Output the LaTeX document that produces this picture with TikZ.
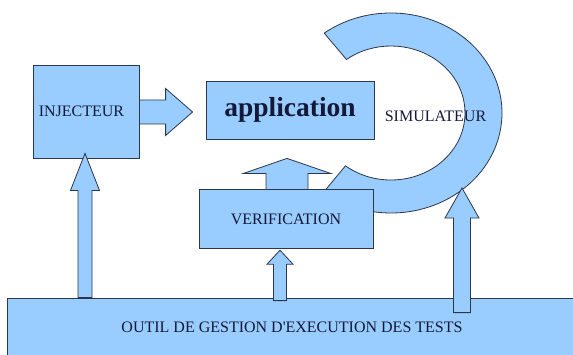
\documentclass[tikz,border=0pt]{standalone}
\usepackage{fontspec}
\setmainfont{Liberation Serif}
\definecolor{bleuClair}{RGB}{153,204,255}
\definecolor{contour}{RGB}{45,55,75}
\definecolor{encre}{RGB}{20,25,55}
\usetikzlibrary{positioning,calc}
\tikzset{
  bloc/.style={rectangle, draw=contour, line width=0.8pt, fill=bleuClair,
               inner sep=0pt, align=center, text=encre,
               font=\fontsize{16}{18}\selectfont},
  grosbloc/.style={bloc, font=\fontsize{27.5}{30}\selectfont\bfseries},
  texte/.style={inner sep=0pt, text=encre, font=\fontsize{16}{18}\selectfont},
  fleche/.style={fill=bleuClair, draw=contour, line width=0.8pt, line join=miter},
}
\newcommand{\flecheHaut}[5]{%
  \filldraw[fleche] ($(#1)+(-#3,0)$) -- ($(#2)+(-#3,-#5)$) -- ($(#2)+(-#4,-#5)$) -- (#2)
    -- ($(#2)+(#4,-#5)$) -- ($(#2)+(#3,-#5)$) -- ($(#1)+(#3,0)$) -- cycle;}
\newcommand{\flecheDroite}[5]{%
  \filldraw[fleche] ($(#1)+(0,-#3)$) -- ($(#2)+(-#5,-#3)$) -- ($(#2)+(-#5,-#4)$) -- (#2)
    -- ($(#2)+(-#5,#4)$) -- ($(#2)+(-#5,#3)$) -- ($(#1)+(0,#3)$) -- cycle;}

\begin{document}
\begin{tikzpicture}[x=1pt,y=1pt]
  \clip (0,0) rectangle (573,354);

  % anneau du simulateur
  \coordinate (centreSim) at (391,241);
  \coordinate (pointeSim) at (313,149);
  \filldraw[fleche] ($(centreSim)+(127:111pt and 100pt)$)
      arc[start angle=127, end angle=-115, x radius=111pt, y radius=100pt]
      -- (pointeSim) -- ($(centreSim)+(-128:74pt and 67pt)$)
      arc[start angle=-128, end angle=127, x radius=74pt, y radius=67pt] -- cycle;

  \node[bloc, minimum width=106pt, minimum height=93pt] (injecteur) at (86,242.5) {};
  \node[texte] at ($(injecteur)+(-4.5,0.5)$) {INJECTEUR};
  \node[grosbloc, minimum width=168pt, minimum height=58pt] (application) at (290,244) {application};
  \node[bloc, minimum width=174pt, minimum height=59pt, below=50pt of application, xshift=-4pt]
       (verification) {VERIFICATION};
  \node[bloc, minimum width=570pt, minimum height=58pt] (outil) at (292,27)
       {OUTIL DE GESTION D\textquotesingle EXECUTION DES TESTS};

  \coordinate (pDroite) at ($(application.west)+(-13,-2)$);
  \coordinate (bDroite) at (injecteur.east |- pDroite);
  \flecheDroite{bDroite}{pDroite}{12}{23.5}{27}

  \coordinate (pInj) at ($(injecteur.south)+(-1,5)$);
  \coordinate (bInj) at (pInj |- outil.north);
  \flecheHaut{bInj}{pInj}{7}{14.5}{37}

  \coordinate (pVer) at ($(verification.south)+(-6,-1)$);
  \coordinate (bVer) at ($(pVer |- outil.north)+(0,-3)$);
  \flecheHaut{bVer}{pVer}{6.5}{13}{14}

  \coordinate (pApp) at ($(application.south)+(-3,-19)$);
  \coordinate (bApp) at (pApp |- verification.north);
  \flecheHaut{bApp}{pApp}{21}{43.5}{15}

  \coordinate (pSim) at (462,166);
  \coordinate (bSim) at ($(pSim |- outil.north)+(0,-15)$);
  \flecheHaut{bSim}{pSim}{8.5}{17}{30}

  \node[texte] (simulateur) at (435.5,238) {SIMULATEUR};
\end{tikzpicture}
\end{document}
